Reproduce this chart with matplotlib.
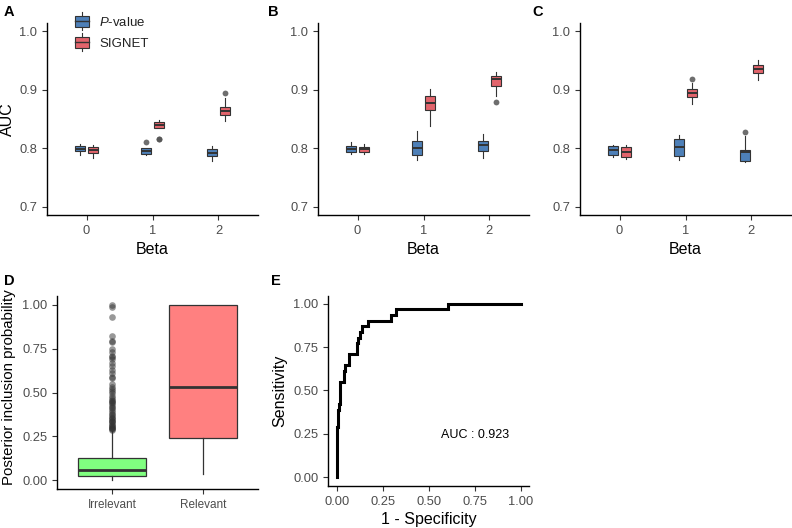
import matplotlib
matplotlib.use("Agg")
import matplotlib.pyplot as plt
from matplotlib.legend_handler import HandlerBase
from matplotlib.patches import Rectangle, Patch
from matplotlib.lines import Line2D

plt.rcParams['font.family'] = ['Liberation Sans', 'DejaVu Sans']
plt.rcParams['mathtext.fontset'] = 'custom'
plt.rcParams['mathtext.it'] = 'Liberation Sans:italic'
plt.rcParams['mathtext.rm'] = 'Liberation Sans'

# ---------------- data ----------------
betas = [0, 1, 2]
methods = ["P-value", "SIGNET"]
colors = {"P-value": "#4E80B8", "SIGNET": "#E2646C"}

# box stats per panel: (whislo, q1, med, q3, whishi) for beta 0,1,2
A_pval = [(0.788, 0.7946, 0.799, 0.8041, 0.8075), (0.788, 0.7905, 0.795, 0.7997, 0.801), (0.779, 0.787, 0.792, 0.798, 0.804)]
A_sig = [(0.784, 0.7922, 0.7973, 0.8024, 0.805), (0.834, 0.835, 0.840, 0.845, 0.849), (0.847, 0.8566, 0.8634, 0.8697, 0.886)]
A_pval_out = [[], [0.810], []]
A_sig_out = [[], [0.815, 0.8155], [0.895]]

B_pval = [(0.791, 0.7934, 0.7985, 0.8036, 0.811), (0.780, 0.7883, 0.8008, 0.8122, 0.829), (0.784, 0.795, 0.806, 0.8116, 0.825)]
B_sig = [(0.7905, 0.7934, 0.7985, 0.8025, 0.808), (0.838, 0.865, 0.877, 0.889, 0.901), (0.889, 0.906, 0.9186, 0.924, 0.930)]
B_pval_out = [[], [], []]
B_sig_out = [[], [], [0.879]]

C_pval = [(0.7854, 0.7877, 0.7968, 0.8036, 0.806), (0.780, 0.787, 0.802, 0.816, 0.822), (0.7758, 0.7775, 0.793, 0.797, 0.8207)]
C_sig = [(0.781, 0.7854, 0.794, 0.8025, 0.806), (0.876, 0.888, 0.8947, 0.901, 0.911), (0.9163, 0.9278, 0.9346, 0.9414, 0.9505)]
C_pval_out = [[], [], [0.828]]
C_sig_out = [[], [0.9175], []]

# panel D
d_groups = ["Irrelevant", "Relevant"]
d_colors = ["#80FF80", "#FF8080"]
d_stats = [(0.0, 0.023, 0.057, 0.127, 0.28), (0.038, 0.243, 0.53, 1.0, 1.0)]
d_irrelevant_out = [0.285, 0.29, 0.295, 0.30, 0.305, 0.31, 0.315, 0.32, 0.33, 0.335, 0.34, 0.35,
                    0.355, 0.36, 0.37, 0.38, 0.39, 0.40, 0.41, 0.42, 0.43, 0.44, 0.445, 0.45,
                    0.46, 0.47, 0.48, 0.50, 0.51, 0.52, 0.53, 0.55, 0.58, 0.59, 0.61, 0.63,
                    0.65, 0.67, 0.69, 0.70, 0.71, 0.73, 0.75, 0.79, 0.795, 0.82, 0.93, 0.985, 1.0]

# panel E ROC (staircase vertices)
roc_fpr = [0, 0, 0.004, 0.004, 0.009, 0.009, 0.018, 0.018, 0.035, 0.035, 0.044, 0.044, 0.062, 0.062,
           0.106, 0.106, 0.115, 0.115, 0.124, 0.124, 0.137, 0.137, 0.168, 0.168, 0.292, 0.292,
           0.319, 0.319, 0.602, 0.602, 1.0]
roc_tpr = [0, 0.29, 0.29, 0.387, 0.387, 0.419, 0.419, 0.548, 0.548, 0.613, 0.613, 0.645, 0.645, 0.71,
           0.71, 0.774, 0.774, 0.806, 0.806, 0.839, 0.839, 0.871, 0.871, 0.903, 0.903, 0.935,
           0.935, 0.968, 0.968, 1.0, 1.0]
auc_value = 0.923

# ---------------- figure ----------------
W, H = 792, 528
fig = plt.figure(figsize=(W / 100, H / 100), dpi=100)


def add_ax(left, top, right, bottom):
    return fig.add_axes([left / W, 1 - bottom / H, (right - left) / W, (bottom - top) / H])


TICK_C = "#4D4D4D"
EDGE = "#333333"


def style(ax):
    for s in ["top", "right"]:
        ax.spines[s].set_visible(False)
    for s in ["left", "bottom"]:
        ax.spines[s].set_linewidth(1.0)
        ax.spines[s].set_color("black")
    ax.tick_params(axis="both", length=3.5, width=0.8, color="#333333",
                   labelcolor=TICK_C, labelsize=9.3)


def mkstats(t, fl):
    return dict(whislo=t[0], q1=t[1], med=t[2], q3=t[3], whishi=t[4], fliers=fl)


def auc_panel(ax, pval, sig, pout, sout):
    off = 0.1
    w = 0.16
    for stats, outs, m, sgn in [(pval, pout, "P-value", -1), (sig, sout, "SIGNET", 1)]:
        st = [mkstats(stats[i], outs[i]) for i in range(3)]
        ax.bxp(st, positions=[b + sgn * off for b in betas], widths=w, patch_artist=True,
               showcaps=False,
               boxprops=dict(facecolor=colors[m], edgecolor=EDGE, linewidth=0.8),
               medianprops=dict(color=EDGE, linewidth=1.4),
               whiskerprops=dict(color=EDGE, linewidth=0.8),
               flierprops=dict(marker="o", markerfacecolor="#555555", markeredgecolor="none",
                               markersize=4.2, alpha=0.85))
    ax.set_xlim(-0.6, 2.6)
    ax.set_ylim(0.686, 1.014)
    ax.set_xticks(betas)
    ax.set_xticklabels([str(b) for b in betas])
    ax.set_yticks([0.7, 0.8, 0.9, 1.0])
    ax.set_yticklabels(["0.7", "0.8", "0.9", "1.0"])
    ax.set_xlabel("Beta", fontsize=11.5, labelpad=4)
    style(ax)


axA = add_ax(47, 23, 258, 215)
axB = add_ax(318, 23, 529, 215)
axC = add_ax(580, 23, 791, 215)
auc_panel(axA, A_pval, A_sig, A_pval_out, A_sig_out)
auc_panel(axB, B_pval, B_sig, B_pval_out, B_sig_out)
auc_panel(axC, C_pval, C_sig, C_pval_out, C_sig_out)
axA.set_ylabel("AUC", fontsize=11.5)
axA.yaxis.set_label_coords(-0.15, 0.5)


class BoxHandler(HandlerBase):
    def create_artists(self, legend, orig_handle, xdescent, ydescent, width, height, fontsize, trans):
        fc = orig_handle.get_facecolor()
        bw = width * 0.75
        x0 = (width - bw) / 2 - xdescent
        r = Rectangle((x0, -ydescent), bw, height, facecolor=fc, edgecolor=EDGE, lw=0.8, transform=trans)
        cx = width / 2 - xdescent
        mid = Line2D([x0, x0 + bw], [height / 2 - ydescent] * 2, color=EDGE, lw=1.0, transform=trans)
        w1 = Line2D([cx, cx], [height - ydescent, height * 1.35 - ydescent], color=EDGE, lw=0.8, transform=trans)
        w2 = Line2D([cx, cx], [-ydescent, -height * 0.35 - ydescent], color=EDGE, lw=0.8, transform=trans)
        return [r, mid, w1, w2]


handles = [Patch(facecolor=colors["P-value"]), Patch(facecolor=colors["SIGNET"])]
leg = axA.legend(handles, [r"$\mathit{P}$-value", "SIGNET"], handler_map={Patch: BoxHandler()},
                 loc="upper left", bbox_to_anchor=(0.065, 1.10), frameon=False, fontsize=9.5,
                 handlelength=1.4, handleheight=0.9, handletextpad=0.6, labelspacing=0.6)
for t in leg.get_texts():
    t.set_color("#222222")

# panel D
axD = add_ax(57, 296, 258, 489)
stD = [mkstats(d_stats[0], d_irrelevant_out), mkstats(d_stats[1], [])]
bpD = axD.bxp(stD, positions=[1, 2], widths=0.75, patch_artist=True, showcaps=False,
              boxprops=dict(edgecolor=EDGE, linewidth=0.9),
              medianprops=dict(color=EDGE, linewidth=2.0),
              whiskerprops=dict(color=EDGE, linewidth=0.9),
              flierprops=dict(marker="o", markerfacecolor="#333333", markeredgecolor="none",
                              markersize=4.8, alpha=0.5))
for patch, c in zip(bpD["boxes"], d_colors):
    patch.set_facecolor(c)
axD.set_xlim(0.4, 2.6)
axD.set_ylim(-0.05, 1.05)
axD.set_xticks([1, 2])
axD.set_xticklabels(d_groups)
axD.set_yticks([0, 0.25, 0.5, 0.75, 1.0])
axD.set_yticklabels(["0.00", "0.25", "0.50", "0.75", "1.00"])
axD.set_ylabel("Posterior inclusion probability", fontsize=10.8)
axD.yaxis.set_label_coords(-0.205, 0.53)
style(axD)
axD.tick_params(axis="x", labelsize=8.5)

# panel E
axE = add_ax(328, 296, 529, 486)
axE.plot(roc_fpr, roc_tpr, color="black", lw=2.2, solid_joinstyle="miter")
axE.set_xlim(-0.05, 1.045)
axE.set_ylim(-0.052, 1.046)
axE.set_xticks([0, 0.25, 0.5, 0.75, 1.0])
axE.set_xticklabels(["0.00", "0.25", "0.50", "0.75", "1.00"])
axE.set_yticks([0, 0.25, 0.5, 0.75, 1.0])
axE.set_yticklabels(["0.00", "0.25", "0.50", "0.75", "1.00"])
axE.set_xlabel("1 - Specificity", fontsize=11.5, labelpad=3)
axE.set_ylabel("Sensitivity", fontsize=11.5)
axE.yaxis.set_label_coords(-0.205, 0.5)
axE.text(0.75, 0.24, f"AUC : {auc_value:.3f}", ha="center", va="center", fontsize=9, color="black")
style(axE)

# panel letters
for lbl, x, y in [("A", 4, 12), ("B", 268, 12), ("C", 532, 12), ("D", 4, 281), ("E", 271, 281)]:
    fig.text(x / W, 1 - y / H, lbl, fontsize=10.5, fontweight="bold", ha="left", va="center")

fig.savefig("out.png", dpi=100)
